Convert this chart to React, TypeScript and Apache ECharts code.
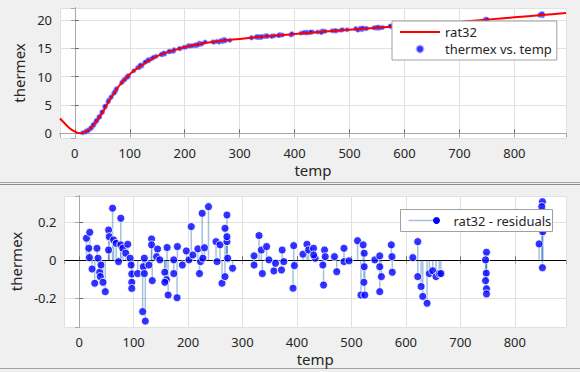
import React, { useEffect, useRef } from "react";
import * as echarts from "echarts";

// thermex vs. temp (data points)
const dataTemp: number[] = [24.41,34.82,44.09,45.07,54.98,65.51,70.53,75.7,89.57,91.14,96.4,97.19,114.26,120.25,127.08,133.55,133.61,158.67,172.74,171.31,202.14,220.55,221.05,221.39,250.99,268.99,271.8,271.97,321.31,321.69,330.14,333.03,333.47,340.77,345.65,373.11,373.79,411.82,419.51,421.59,422.02,422.47,422.61,441.75,447.41,448.7,472.89,476.69,522.47,522.62,524.43,546.75,549.53,575.29,576,625.55,20.15,28.78,29.57,37.41,39.12,50.24,61.38,66.25,73.42,95.52,107.32,122.04,134.03,163.19,163.48,175.7,179.86,211.27,217.78,219.14,262.52,268.01,268.62,336.25,337.23,339.33,427.38,428.58,432.68,528.99,531.08,628.34,253.24,273.13,273.66,282.1,346.62,347.19,348.78,351.18,450.1,450.35,451.92,455.56,552.22,553.56,555.74,652.59,656.2,14.13,20.41,31.3,33.84,39.7,48.83,54.5,60.41,72.77,75.25,86.84,94.88,96.4,117.37,139.08,147.73,158.63,161.84,192.11,206.76,209.07,213.32,226.44,237.12,330.9,358.72,370.77,372.72,396.24,416.59,484.02,495.47,514.78,515.65,519.47,544.47,560.11,620.77,18.97,28.93,33.91,40.03,44.66,49.87,55.16,60.9,72.08,85.15,97.06,119.63,133.27,143.84,161.91,180.67,198.44,226.86,229.65,258.27,273.77,339.15,350.13,362.75,371.03,393.32,448.53,473.78,511.12,524.7,548.75,551.64,574.02,623.86,21.46,24.33,33.43,39.22,44.18,55.02,94.33,96.44,118.82,128.48,141.94,156.92,171.65,190,223.26,223.88,231.5,265.05,269.44,271.78,273.46,334.61,339.79,349.52,358.18,377.98,394.77,429.66,468.22,487.27,519.54,523.03,612.99,638.59,641.36,622.05,631.5,663.97,646.9,748.29,749.21,750.14,647.04,646.89,746.9,748.43,747.35,749.27,647.61,747.78,750.51,851.37,845.97,847.54,849.93,851.61,849.75,850.98,848.23];
const dataThermex: number[] = [0.591,1.547,2.902,2.894,4.703,6.307,7.03,7.898,9.47,9.484,10.072,10.163,11.615,12.005,12.478,12.982,12.97,13.926,14.452,14.404,15.19,15.55,15.528,15.499,16.131,16.438,16.387,16.549,16.872,16.83,16.926,16.907,16.966,17.06,17.122,17.311,17.355,17.668,17.767,17.803,17.765,17.768,17.736,17.858,17.877,17.912,18.046,18.085,18.291,18.357,18.426,18.584,18.61,18.87,18.795,19.111,0.367,0.796,0.892,1.903,2.15,3.697,5.87,6.421,7.422,9.944,11.023,11.87,12.786,14.067,13.974,14.462,14.464,15.381,15.483,15.59,16.075,16.347,16.181,16.915,17.003,16.978,17.756,17.808,17.868,18.481,18.486,19.09,16.062,16.337,16.345,16.388,17.159,17.116,17.164,17.123,17.979,17.974,18.007,17.993,18.523,18.669,18.617,19.371,19.33,0.08,0.248,1.089,1.418,2.278,3.624,4.574,5.556,7.267,7.695,9.136,9.959,9.957,11.6,13.138,13.564,13.871,13.994,14.947,15.473,15.379,15.455,15.908,16.114,17.071,17.135,17.282,17.368,17.483,17.764,18.185,18.271,18.236,18.237,18.523,18.627,18.665,19.086,0.214,0.943,1.429,2.241,2.951,3.782,4.757,5.602,7.169,8.92,10.055,12.035,12.861,13.436,14.167,14.755,15.168,15.651,15.746,16.216,16.445,16.965,17.121,17.206,17.25,17.339,17.793,18.123,18.49,18.566,18.645,18.706,18.924,19.1,0.375,0.471,1.504,2.204,2.813,4.765,9.835,10.04,11.946,12.596,13.303,13.922,14.44,14.951,15.627,15.639,15.814,16.315,16.334,16.43,16.423,17.024,17.009,17.165,17.134,17.349,17.576,17.848,18.09,18.276,18.404,18.519,19.133,19.074,19.239,19.28,19.101,19.398,19.252,19.89,20.007,19.929,19.268,19.324,20.049,20.107,20.062,20.065,19.286,19.972,20.088,20.743,20.83,20.935,21.035,20.93,21.074,21.085,20.935];

// rat32 fitted curve
const fitTemp: number[] = [-27,-20,-10,0,10,20,30,40,50,60,70,80,90,100,110,120,130,140,150,160,175,200,225,250,275,300,350,400,450,500,550,600,650,700,750,800,850,894];
const fitThermex: number[] = [2.6,1.9,0.95,0.3,0.0,0.3,1.0,2.2,3.6,5.3,6.9,8.3,9.4,10.4,11.2,11.9,12.5,13.1,13.6,14.0,14.5,15.2,15.7,16.1,16.4,16.65,17.1,17.5,17.9,18.25,18.6,18.95,19.3,19.65,20.05,20.45,20.85,21.2];

// residuals
const resTemp: number[] = [13.4,19.5,17.7,18.9,23.7,28.6,32.8,34.7,37.7,38.9,43.8,48,40.1,54.1,55.3,54.1,61.4,63.2,68,72.3,76.5,76.5,80.2,85.6,89.3,93.6,95.4,96.6,96.6,96.6,107.5,117.8,119.7,116.6,121.5,119.7,128.2,133,133,134.2,144,142.2,148.2,161.5,157.3,160.3,163.4,157.3,173.7,173.7,179.8,180.4,189.5,196.8,201.7,205.9,208.9,218,221,222.9,225.9,230.2,227.2,237.5,251.4,253.2,258.7,262.3,267.8,267.8,271.4,271.4,272.7,271.4,281.8,321.2,321.2,330.3,334.6,336.4,344.2,348.5,357.6,360.7,372.8,371.6,375.8,394,395.3,392.8,411,418.3,421.3,430.4,433.4,430.6,450.6,451.8,447.5,448.8,468.8,473,486.3,486.3,495.5,511.3,517.4,521.6,523.4,524.6,522.8,523.4,542.9,552,552,555,552,573.2,574.4,575,612.7,621.8,621.8,627.9,631,638.9,643.1,649.2,655.3,661.3,664.3,748,746.3,747.5,748,748,746.3,850.7,849.5,851.3,844.6,850.7];
const resValue: number[] = [0.116,0.147,0.063,0.014,-0.046,-0.121,0.063,0.011,-0.063,-0.086,-0.116,-0.165,-0.025,0.159,0.124,0.054,0.274,0.107,0.089,-0.007,0.221,0.081,0.063,0.037,0.084,0.011,-0.025,-0.072,-0.116,-0.148,-0.07,-0.034,0.011,-0.27,-0.32,-0.07,-0.025,0.112,0.081,-0.107,0.059,0.019,0.002,0.067,-0.063,-0.102,-0.183,-0.116,0.002,-0.07,-0.197,0.072,-0.025,0.049,0.002,0.177,0.028,0.06,-0.07,-0.007,0.247,0.066,0.011,0.282,0.098,-0.007,0.081,-0.121,-0.086,0.168,0.238,0.098,0.011,0.124,-0.042,0.023,-0.025,0.13,0.054,-0.07,0.072,0.002,-0.056,-0.016,0.054,-0.051,-0.007,0.077,-0.028,-0.147,0.032,0.084,0.054,0.063,0.011,0.028,0.054,0.019,-0.025,-0.13,0.019,-0.06,0.063,-0.007,-0.003,0.103,-0.183,0.081,0.037,-0.183,-0.116,-0.034,0.002,0.023,-0.034,-0.086,-0.165,0.081,0.019,-0.063,0.014,0.098,-0.086,-0.138,-0.19,-0.226,-0.07,-0.055,-0.086,-0.07,-0.07,0.042,0.002,-0.068,-0.15,-0.177,-0.107,0.308,0.282,0.15,0.086,-0.039];

const FONT = "'Noto Sans', 'DejaVu Sans', sans-serif";
const TXT = "#262626";

export default function App() {
  const ref = useRef<HTMLDivElement>(null);
  useEffect(() => {
    if (!ref.current) return;
    const chart = echarts.init(ref.current, undefined, { renderer: "svg" });
    const scatterData = dataTemp.map((t, i) => [t, dataThermex[i]]);
    const fitData = fitTemp.map((t, i) => [t, fitThermex[i]]);
    const resData = resTemp.map((t, i) => [t, resValue[i]]);

    const hideFmt = (v: number) => (Math.abs(v - Math.round(v / 100) * 100) < 1e-6 ? String(Math.round(v)) : "");
    const xBase = (gridIndex: number) => ({
      type: "value",
      gridIndex,
      min: -27,
      max: 894,
      splitNumber: 9,
      axisLine: { show: true, lineStyle: { color: "#6b6b6b", width: 1 } },
      axisTick: { show: true, inside: true, length: 4, lineStyle: { color: "#6b6b6b" } },
      axisLabel: {
        color: TXT, fontSize: 13, fontFamily: FONT, margin: 8,
        showMinLabel: false, showMaxLabel: false, formatter: hideFmt,
      },
      splitLine: { show: true, lineStyle: { color: "#e1e1e1", width: 1 } },
      name: "temp",
      nameLocation: "middle",
      nameGap: 24,
      nameTextStyle: { color: TXT, fontSize: 15, fontFamily: FONT },
    });
    const xTop = (gridIndex: number) => ({
      type: "value",
      gridIndex,
      position: "top",
      min: -27,
      max: 894,
      splitNumber: 9,
      axisLine: { show: true, lineStyle: { color: "#a8a8a8", width: 1 } },
      axisTick: { show: true, inside: true, length: 4, lineStyle: { color: "#a8a8a8" } },
      axisLabel: { show: false },
      splitLine: { show: false },
    });

    const option: any = {
      animation: false,
      backgroundColor: "#f0f0f0",
      grid: [
        { left: 60, top: 8, width: 506, height: 130, show: true, backgroundColor: "#fff", borderWidth: 0 },
        { left: 60, top: 196, width: 506, height: 131, show: true, backgroundColor: "#fff", borderWidth: 0 },
      ],
      xAxis: [xBase(0), xTop(0), xBase(1), xTop(1)],
      yAxis: [
        {
          type: "value", gridIndex: 0, min: -0.83, max: 22.1, splitNumber: 5,
          axisLine: { show: true, lineStyle: { color: "#6b6b6b" } },
          axisTick: { show: true, inside: true, length: 4, lineStyle: { color: "#6b6b6b" } },
          axisLabel: { color: TXT, fontSize: 13, fontFamily: FONT, margin: 8, showMinLabel: false, showMaxLabel: false },
          splitLine: { show: true, lineStyle: { color: "#e1e1e1", width: 1 } },
          name: "thermex", nameLocation: "middle", nameGap: 22,
          nameTextStyle: { color: TXT, fontSize: 15, fontFamily: FONT },
        },
        {
          type: "value", gridIndex: 0, position: "right", min: -0.83, max: 22.1, splitNumber: 5,
          axisLine: { show: true, lineStyle: { color: "#a8a8a8" } },
          axisTick: { show: true, inside: true, length: 4, lineStyle: { color: "#a8a8a8" } },
          axisLabel: { show: false }, splitLine: { show: false },
        },
        {
          type: "value", gridIndex: 1, min: -0.351, max: 0.338, splitNumber: 3,
          axisLine: { show: true, lineStyle: { color: "#6b6b6b" } },
          axisTick: { show: true, inside: true, length: 4, lineStyle: { color: "#6b6b6b" } },
          axisLabel: { color: TXT, fontSize: 13, fontFamily: FONT, margin: 8, showMinLabel: false, showMaxLabel: false },
          splitLine: { show: true, lineStyle: { color: "#e1e1e1", width: 1 } },
          name: "thermex", nameLocation: "middle", nameGap: 36,
          nameTextStyle: { color: TXT, fontSize: 15, fontFamily: FONT },
        },
        {
          type: "value", gridIndex: 1, position: "right", min: -0.351, max: 0.338, splitNumber: 3,
          axisLine: { show: true, lineStyle: { color: "#a8a8a8" } },
          axisTick: { show: true, inside: true, length: 4, lineStyle: { color: "#a8a8a8" } },
          axisLabel: { show: false }, splitLine: { show: false },
        },
      ],
      legend: [
        {
          data: [
            { name: "rat32", icon: "path://M0,0L40,0L40,2L0,2Z", itemStyle: { color: "#ff0000" } },
            { name: "thermex vs. temp", icon: "circle" },
          ],
          orient: "vertical",
          left: 392,
          top: 21,
          width: 160,
          padding: [3, 5, 3, 8],
          itemGap: 1,
          itemWidth: 40,
          itemHeight: 7,
          backgroundColor: "#fff",
          borderColor: "#a0a0a0",
          borderWidth: 1,
          borderRadius: 0,
          textStyle: { color: TXT, fontSize: 13, fontFamily: FONT, lineHeight: 16 },
          selectedMode: false,
          z: 20,
        },
      ],
      series: [
        {
          name: "thermex vs. temp",
          type: "scatter",
          xAxisIndex: 0, yAxisIndex: 0,
          data: scatterData,
          symbolSize: 4,
          itemStyle: { color: "#0000ff", borderColor: "rgba(140,140,255,0.55)", borderWidth: 1.5 },
          z: 2,
        },
        {
          name: "rat32",
          type: "line",
          xAxisIndex: 0, yAxisIndex: 0,
          data: fitData,
          smooth: 0.3,
          symbol: "none",
          showSymbol: false,
          lineStyle: { color: "#ff0000", width: 2 },
          itemStyle: { color: "#ff0000" },
          z: 3,
        },
        {
          name: "stems",
          type: "custom",
          xAxisIndex: 2, yAxisIndex: 2,
          data: resData,
          renderItem: (params: any, api: any) => {
            const x = api.value(0);
            const y = api.value(1);
            const p0 = api.coord([x, 0]);
            const p1 = api.coord([x, y]);
            return {
              type: "line",
              shape: { x1: p0[0], y1: p0[1], x2: p1[0], y2: p1[1] },
              style: { stroke: "#1c64b0", lineWidth: 1.5, opacity: 0.4 },
            };
          },
          silent: true,
          z: 2,
        },
        {
          name: "rat32 - residuals",
          type: "scatter",
          xAxisIndex: 2, yAxisIndex: 2,
          data: resData,
          symbolSize: 8,
          itemStyle: { color: "#0000ff", borderColor: "#ffffff", borderWidth: 1 },
          markLine: {
            silent: true,
            symbol: "none",
            label: { show: false },
            lineStyle: { color: "#000", width: 1, type: "solid" },
            data: [{ yAxis: 0 }],
            z: 1,
          },
          z: 4,
        },
      ],
      graphic: [
        { type: "line", shape: { x1: 0, y1: 182.5, x2: 580, y2: 182.5 }, style: { stroke: "#a0a0a0", lineWidth: 1 } },
        { type: "line", shape: { x1: 0, y1: 184.5, x2: 580, y2: 184.5 }, style: { stroke: "#8c8c8c", lineWidth: 1 } },
        { type: "line", shape: { x1: 0, y1: 368.5, x2: 580, y2: 368.5 }, style: { stroke: "#a0a0a0", lineWidth: 1 } },
        {
          type: "group",
          left: 400,
          top: 209,
          z: 100,
          children: [
            { type: "rect", z: 100, shape: { x: 0, y: 0, width: 152, height: 22 }, style: { fill: "#fff", stroke: "#a0a0a0", lineWidth: 1 } },
            { type: "line", z: 101, shape: { x1: 8, y1: 11, x2: 34, y2: 11 }, style: { stroke: "#a9bddc", lineWidth: 1.5 } },
            { type: "circle", z: 102, shape: { cx: 36, cy: 11, r: 3.5 }, style: { fill: "#0000ff" } },
            {
              type: "text", z: 102, x: 53, y: 11,
              style: { text: "rat32 - residuals", fill: TXT, font: `13px ${FONT}`, verticalAlign: "middle", align: "left" },
            },
          ],
        },
      ],
    };
    chart.setOption(option);
    return () => chart.dispose();
  }, []);
  return (
    <div
      ref={ref}
      style={{ position: "fixed", left: 0, top: 0, width: 580, height: 372, background: "#f0f0f0" }}
    />
  );
}
